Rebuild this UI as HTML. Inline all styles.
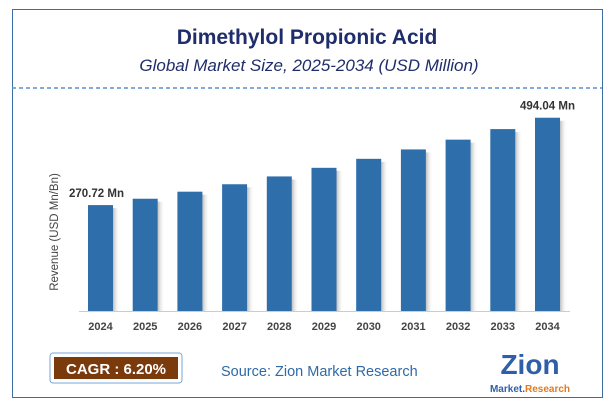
<!DOCTYPE html>
<html><head><meta charset="utf-8"><style>
body{margin:0;background:#fff;width:615px;height:402px;overflow:hidden;font-family:"Liberation Sans",sans-serif}
.frame{position:absolute;left:12px;top:9px;width:589px;height:387px;border:1px solid #3a6ea5}
</style></head><body>
<div class="frame"></div>
<svg width="615" height="402" style="position:absolute;left:0;top:0">
<defs><linearGradient id="sh" x1="0" x2="1"><stop offset="0" stop-color="#888" stop-opacity=".55"/><stop offset="1" stop-color="#fff" stop-opacity="0"/></linearGradient></defs>
<text x="307" y="44" text-anchor="middle" font-size="21" font-weight="bold" fill="#1f2d6b">Dimethylol Propionic Acid</text>
<text x="309" y="71" text-anchor="middle" font-size="17" font-style="italic" fill="#1f2d6b">Global Market Size, 2025-2034 (USD Million)</text>
<line x1="12" y1="88" x2="602" y2="88" stroke="#5b8fd1" stroke-width="1.5" stroke-dasharray="4,3"/>
<text transform="translate(58,232) rotate(-90)" text-anchor="middle" font-size="11.5" fill="#444">Revenue (USD Mn/Bn)</text>
<line x1="79" y1="311.5" x2="570" y2="311.5" stroke="#ccc"/>
<g id="bars"></g>
<rect x="50" y="353" width="132" height="30" rx="3" fill="#fff" stroke="#7aa6d8"/>
<rect x="54" y="357" width="124" height="22" fill="#7a3a0c"/>
<text x="116" y="374" text-anchor="middle" font-size="15" font-weight="bold" fill="#fff">CAGR :  6.20%</text>
<text x="221" y="376" font-size="14.5" fill="#2f6aa8">Source: Zion Market Research</text>
<text x="530" y="374" text-anchor="middle" font-size="28" font-weight="bold" fill="#2f5fa8">Zion</text>
<text x="530" y="392" text-anchor="middle" font-size="10" font-weight="bold" fill="#2f5fa8">Market.<tspan fill="#e07a1f">Research</tspan></text>
</svg>
<script>
const years=["2024","2025","2026","2027","2028","2029","2030","2031","2032","2033","2034"];
const values=[270.72,287,305,324,344,366,389,413,438,465,494.04];
const labels={0:"270.72 Mn",10:"494.04 Mn"};
const g=document.getElementById('bars');const NS="http://www.w3.org/2000/svg";
const x0=100.5,step=44.7,bw=25,base=311,sc=0.3912;
function xs(i){return x0+i*step}function ys(v){return base-v*sc}
years.forEach((yr,i)=>{
 const cx=xs(i),top=ys(values[i]);
 const s=document.createElementNS(NS,'rect');
 s.setAttribute('x',cx+bw/2);s.setAttribute('y',top+3);s.setAttribute('width',7);s.setAttribute('height',base-top-3);s.setAttribute('fill','url(#sh)');
 
 
 g.appendChild(s);
 const r=document.createElementNS(NS,'rect');
 r.setAttribute('x',cx-bw/2);r.setAttribute('y',top);r.setAttribute('width',bw);r.setAttribute('height',base-top);r.setAttribute('fill','#2e6eab');
 
 
 g.appendChild(r);
 const t=document.createElementNS(NS,'text');
 t.setAttribute('x',cx);t.setAttribute('y',330);t.setAttribute('text-anchor','middle');t.setAttribute('font-size','11');t.setAttribute('font-weight','bold');t.setAttribute('fill','#444');t.textContent=yr;
 
 
 g.appendChild(t);
 if(labels[i]){const l=document.createElementNS(NS,'text');
 l.setAttribute('x',cx-(i==0?4:0));l.setAttribute('y',top-8);l.setAttribute('text-anchor','middle');l.setAttribute('font-size','11.5');l.setAttribute('font-weight','bold');l.setAttribute('fill','#333');l.textContent=labels[i];
 
 
 g.appendChild(l);}
});
</script>
</body></html>
